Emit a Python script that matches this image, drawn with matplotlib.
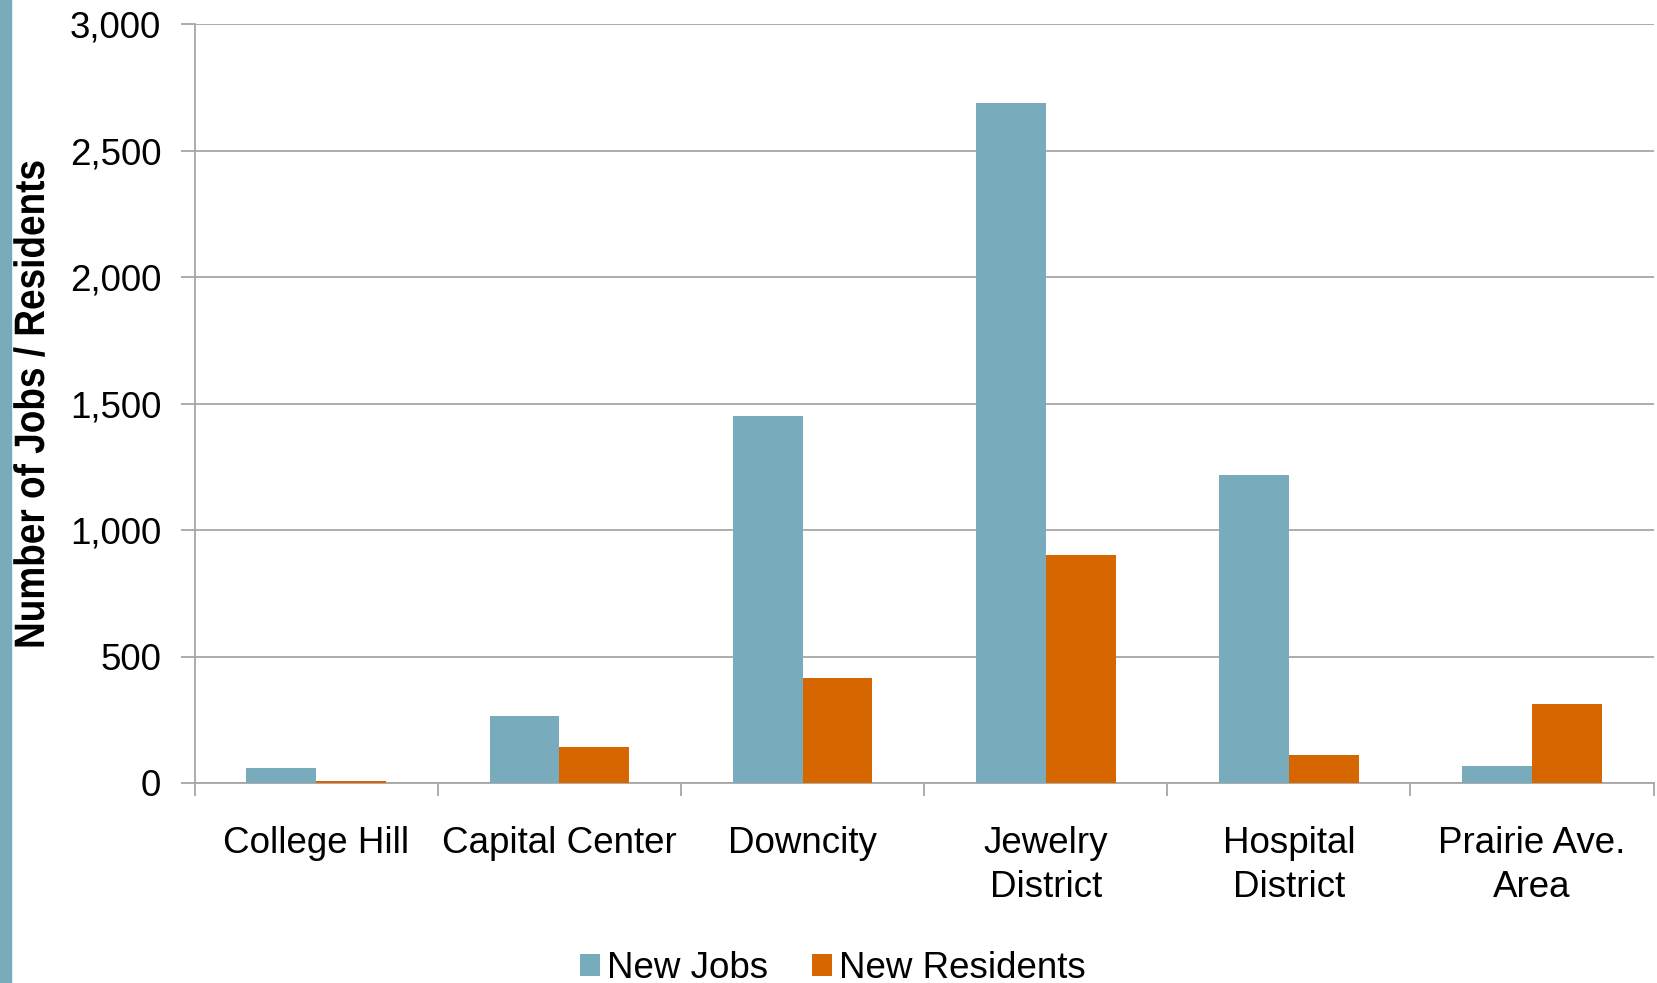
import numpy as np
import matplotlib
matplotlib.use("Agg")
import matplotlib.pyplot as plt
from matplotlib.ticker import FuncFormatter, MultipleLocator
from matplotlib.patches import Rectangle, PathPatch
from matplotlib.textpath import TextPath
from matplotlib.font_manager import FontProperties
from matplotlib.transforms import Affine2D, IdentityTransform

areas = ["College Hill", "Capital Center", "Downcity", "Jewelry\nDistrict",
         "Hospital\nDistrict", "Prairie Ave.\nArea"]
new_jobs = [59, 263, 1450, 2690, 1216, 68]
new_residents = [6, 142, 414, 902, 109, 314]

JOBS_COLOR = "#78acbd"
RES_COLOR = "#d66600"
GRID_COLOR = "#a6a6a6"

plt.rcParams["font.family"] = ["Liberation Sans", "DejaVu Sans"]

fig = plt.figure(figsize=(16.57, 9.83), dpi=100)
ax = fig.add_axes([0.1174, 0.2035, 0.8806, 0.7718])

x = np.arange(len(areas))
w = 0.287
ax.bar(x - w / 2, new_jobs, w, color=JOBS_COLOR, label="New Jobs", zorder=3)
ax.bar(x + w / 2, new_residents, w, color=RES_COLOR, label="New Residents", zorder=3)

ax.set_xlim(-0.5, len(areas) - 0.5)
ax.set_ylim(0, 3000)
ax.yaxis.set_major_locator(MultipleLocator(500))
ax.yaxis.set_major_formatter(FuncFormatter(lambda v, p: f"{int(v):,}"))
ax.grid(axis="y", color=GRID_COLOR, linewidth=1.3, zorder=0)

# category labels sit between the group-boundary ticks
ax.set_xticks(np.arange(len(areas) + 1) - 0.5)
ax.set_xticklabels([])
ax.set_xticks(x, minor=True)
ax.set_xticklabels(areas, minor=True, fontsize=26.5, linespacing=1.32)
ax.tick_params(axis="x", which="minor", length=0, pad=31)
ax.tick_params(axis="x", which="major", length=9, width=1.3, color=GRID_COLOR)
ax.tick_params(axis="y", length=10, width=1.3, color=GRID_COLOR, labelsize=26.5, pad=14)

for side in ["top", "right"]:
    ax.spines[side].set_visible(False)
for side in ["left", "bottom"]:
    ax.spines[side].set_color(GRID_COLOR)
    ax.spines[side].set_linewidth(1.3)

# condensed bold y label, drawn as a squeezed text path
ylabel = "Number of Jobs / Residents"
tp = TextPath((0, 0), ylabel, size=42.5,
              prop=FontProperties(family="Liberation Sans", weight="bold"))
ext = tp.get_extents()
cx, cy = (ext.x0 + ext.x1) / 2, (ext.y0 + ext.y1) / 2
tr = (Affine2D().translate(-cx, -cy).scale(0.87, 1.0).rotate_deg(90)
      .translate(29, 579))
fig.add_artist(PathPatch(tr.transform_path(tp), transform=IdentityTransform(),
                         facecolor="black", edgecolor="none"))

# teal strip along the left edge
fig.add_artist(Rectangle((0, 0), 11 / 1657, 1, transform=fig.transFigure,
                         color=JOBS_COLOR, zorder=0))

fig.legend(loc="center", bbox_to_anchor=(0.5027, 0.0148), ncol=2, frameon=False,
           fontsize=26.5, handlelength=0.54, handleheight=0.54, handletextpad=0.2,
           columnspacing=1.18)

fig.savefig("out.png", dpi=100)
